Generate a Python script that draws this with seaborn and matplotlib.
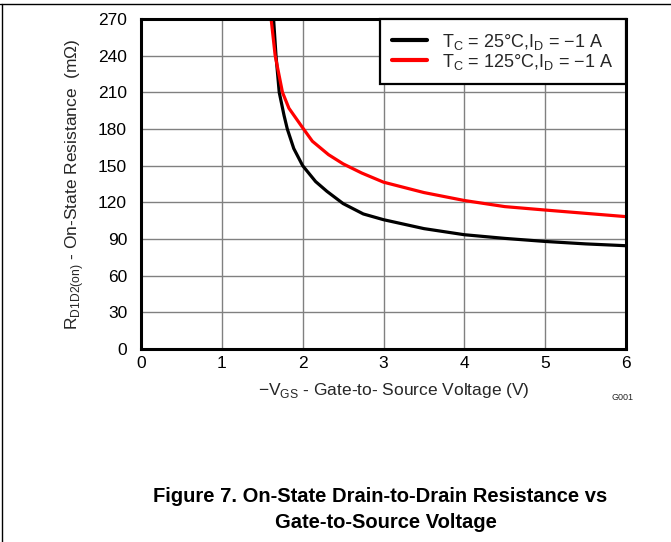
import matplotlib
matplotlib.use("Agg")
import matplotlib.pyplot as plt
import seaborn as sns
import pandas as pd
from matplotlib.lines import Line2D

# Data
vgs_25 = [1.64, 1.67, 1.71, 1.77, 1.81, 1.89, 2.00, 2.16, 2.30, 2.50, 2.75, 3.00, 3.50, 4.00, 4.50, 5.00, 5.50, 6.00]
r_25 = [270, 240, 210, 191, 180, 164, 150, 137, 129, 119, 110.5, 105.8, 98.5, 93.5, 90.5, 88, 86, 84.5]
vgs_125 = [1.61, 1.66, 1.75, 1.83, 2.00, 2.12, 2.32, 2.50, 2.73, 3.00, 3.50, 4.00, 4.50, 5.00, 5.50, 6.00]
r_125 = [270, 240, 210, 197, 181, 170, 159, 151.5, 144, 136.5, 128, 121.5, 116.5, 113.7, 111, 108.3]
label_25 = r"T$_{\mathregular{C}}$ = 25°C,I$_{\mathregular{ D}}$ = −1 A"
label_125 = r"T$_{\mathregular{C}}$ = 125°C,I$_{\mathregular{ D}}$ = −1 A"
x_ticks = [0, 1, 2, 3, 4, 5, 6]
y_ticks = [0, 30, 60, 90, 120, 150, 180, 210, 240, 270]

df = pd.concat([
    pd.DataFrame({"vgs": vgs_25, "r": r_25, "series": label_25}),
    pd.DataFrame({"vgs": vgs_125, "r": r_125, "series": label_125}),
], ignore_index=True)

sns.set_style("white")
plt.rcParams["font.family"] = ["Liberation Sans", "DejaVu Sans"]
plt.rcParams["mathtext.fontset"] = "custom"
plt.rcParams["mathtext.rm"] = "Liberation Sans"

fig = plt.figure(figsize=(6.71, 5.42), dpi=100)
ax = fig.add_axes([141/671, 1-349/542, 485/671, 330/542])

sns.lineplot(data=df, x="vgs", y="r", hue="series", sort=False, estimator=None,
             palette={label_25: "black", label_125: "#ff0000"}, linewidth=2.3, ax=ax)
for ln in ax.get_lines():
    ln.set_solid_joinstyle("round")

ax.set_xlim(0, 6)
ax.set_ylim(0, 270)
ax.set_xticks(x_ticks)
ax.set_yticks(y_ticks)
ax.tick_params(length=0, labelsize=12.5, colors="black")
ax.tick_params(axis="y", pad=10)
ax.tick_params(axis="x", pad=5)
ax.grid(True, color="#808080", linewidth=1.0)
for s in ax.spines.values():
    s.set_linewidth(2.2)
    s.set_color("black")

ax.set_xlabel(r"−V$_{\mathregular{GS}}$ - Gate-to- Source Voltage (V)", fontsize=12.5)
ax.set_ylabel(r"R$_{\mathregular{D1D2(on)}}$ - On-State Resistance  (mΩ)", fontsize=12.5)
ax.xaxis.set_label_coords((394 - 141) / 485, -(390 - 349) / 330)
ax.yaxis.set_label_coords(-(141 - 75) / 485, 0.5)
ax.xaxis.label.set_va("center")
ax.yaxis.label.set_va("center")

leg = ax.legend(loc="upper right", fontsize=13, frameon=True, fancybox=False,
                handlelength=1.9, borderaxespad=0, borderpad=0.7, labelspacing=0.0,
                handletextpad=0.85)
leg.get_frame().set_edgecolor("black")
leg.get_frame().set_linewidth(1.6)
leg.get_frame().set_alpha(1)
for h in leg.get_lines():
    h.set_linewidth(3)

fig.text(622/671, 1-397/542, "G001", fontsize=6.5, ha="center", va="center")
fig.text(380/671, 1-497/542, "Figure 7. On-State Drain-to-Drain Resistance vs",
         fontsize=14.5, fontweight="bold", ha="center", va="center", color="black")
fig.text(386/671, 1-523/542, "Gate-to-Source Voltage",
         fontsize=14.5, fontweight="bold", ha="center", va="center", color="black")

fig.add_artist(Line2D([0, 1], [1-4/542, 1-4/542], color="black", linewidth=1, transform=fig.transFigure))
fig.add_artist(Line2D([1.5/671, 1.5/671], [0, 1-4/542], color="black", linewidth=1, transform=fig.transFigure))

fig.savefig("out.png", dpi=100)
